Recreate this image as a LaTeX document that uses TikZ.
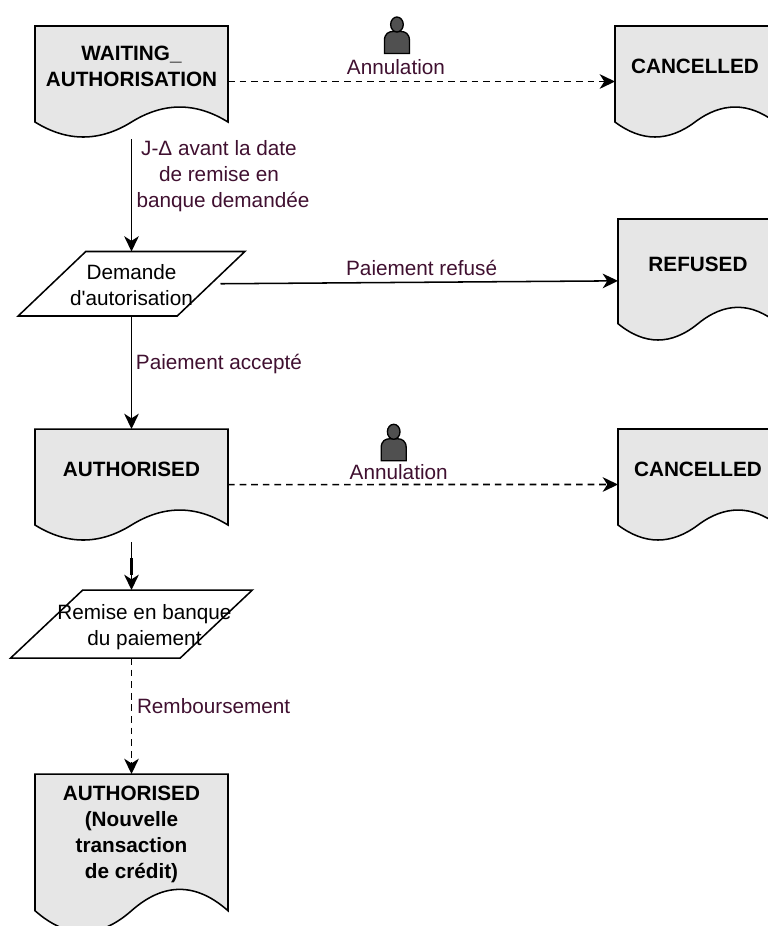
\documentclass[tikz,border=0pt]{standalone}
\usepackage{fontspec}
\setmainfont[Ligatures=TeXOff]{Liberation Sans}
\usepackage{xcolor}
\usepackage{tikz}
\usetikzlibrary{shapes.geometric, positioning, arrows.meta}
\newlength{\Pix}
\setlength\Pix{0.75pt}
\definecolor{plum}{HTML}{401030}
\definecolor{docgrey}{HTML}{E6E6E6}
\definecolor{usergrey}{HTML}{505050}

% sheet with a wavy lower edge
\makeatletter
\pgfdeclareshape{docwave}{
    \inheritsavedanchors[from=rectangle]
    \inheritanchorborder[from=rectangle]
    \inheritanchor[from=rectangle]{center}
    \inheritanchor[from=rectangle]{north}
    \inheritanchor[from=rectangle]{south}
    \inheritanchor[from=rectangle]{east}
    \inheritanchor[from=rectangle]{west}
    \backgroundpath{
        \southwest \pgf@xa=\pgf@x \pgf@ya=\pgf@y
        \northeast \pgf@xb=\pgf@x \pgf@yb=\pgf@y
        \pgf@xc=\pgf@xb \advance\pgf@xc by -\pgf@xa \pgf@xc=0.16667\pgf@xc
        \pgf@yc=\pgf@yb \advance\pgf@yc by -\pgf@ya \pgf@yc=0.135\pgf@yc
        \edef\docleft{\the\pgf@xa}
        \edef\docright{\the\pgf@xb}
        \edef\doctop{\the\pgf@yb}
        \edef\docmid{\the\dimexpr(\pgf@xa+\pgf@xb)/2\relax}
        \edef\docend{\the\dimexpr\pgf@ya+\pgf@yc\relax}
        \edef\docup{\the\dimexpr\pgf@ya+\pgf@yc+4\pgf@yc/3\relax}
        \edef\docdown{\the\dimexpr\pgf@ya+\pgf@yc-4\pgf@yc/3\relax}
        \edef\docra{\the\dimexpr\pgf@xb-\pgf@xc\relax}
        \edef\docrb{\the\dimexpr(\pgf@xa+\pgf@xb)/2+\pgf@xc\relax}
        \edef\docla{\the\dimexpr(\pgf@xa+\pgf@xb)/2-\pgf@xc\relax}
        \edef\doclb{\the\dimexpr\pgf@xa+\pgf@xc\relax}
        \pgfpathmoveto{\pgfqpoint{\docleft}{\doctop}}
        \pgfpathlineto{\pgfqpoint{\docright}{\doctop}}
        \pgfpathlineto{\pgfqpoint{\docright}{\docend}}
        \pgfpathcurveto{\pgfqpoint{\docra}{\docup}}{\pgfqpoint{\docrb}{\docup}}{\pgfqpoint{\docmid}{\docend}}
        \pgfpathcurveto{\pgfqpoint{\docla}{\docdown}}{\pgfqpoint{\doclb}{\docdown}}{\pgfqpoint{\docleft}{\docend}}
        \pgfpathclose
    }
}
\makeatother

\begin{document}
\begin{tikzpicture}[
    x = 0.75pt, y = -0.75pt, align=center, > = {Stealth[length = 11.5pt, width = 11pt, inset = 3.5pt]},
    every node/.style = {font = \fontsize{15.55pt}{19.5pt}\selectfont},
    doc/.style = {docwave, draw, fill = docgrey, line width = 1.15pt, inner sep = 0pt, outer sep = 0pt, minimum width = 193\Pix, minimum height = 111\Pix},
    side/.style = {doc, minimum width = 160\Pix},
    doctext/.style = {font = \fontsize{15.55pt}{19.5pt}\selectfont\bfseries, inner sep = 0pt, yshift = 11.6pt},
    io/.style = {trapezium, trapezium stretches = true, trapezium left angle = 55, trapezium right angle = 125, draw, line width = 1.15pt, inner sep = 0pt, outer sep = 0pt},
    iotext/.style = {inner sep = 0pt},
    flow/.style = {->, line width = 1.15pt},
    dashflow/.style = {flow, dash pattern = on 5pt off 3.7pt},
    flowtext/.style = {text = plum, inner sep = 0pt, anchor = center},
    user/.pic = {
        \draw [fill = usergrey, line width = 1pt] (-12.5,0) -- (-12.5,-13) .. controls (-12.5,-20) and (-8,-22) .. (-4,-22) -- (4,-22) .. controls (8,-22) and (12.5,-20) .. (12.5,-13) -- (12.5,0) -- cycle;
        \draw [fill = usergrey, line width = 1pt] (0,-29) ellipse [x radius = 6.3, y radius = 7.5];
    },
    ]
    \useasboundingbox (0,0) rectangle (768,926);

    % left column
    \node [doc, label = {[doctext]center:WAITING\_\\AUTHORISATION}] (waiting) at (131.5,81.5) {};
    \node [io, minimum width = 227\Pix, minimum height = 64.5\Pix, label = {[iotext, yshift = -.75pt]center:Demande\\d'autorisation}] (demande) [below = 114.5\Pix of waiting] {\phantom{x}};
    \node [doc, label = {[doctext]center:AUTHORISED}] (authorised) [below = 113\Pix of demande] {};
    \node [io, minimum width = 242\Pix, minimum height = 68\Pix, label = {[iotext, xshift = 9.75pt, yshift = -2.2pt]center:Remise en banque\\du paiement}] (remise) [below = 50\Pix of authorised] {\phantom{x}};
    \node [doc, minimum height = 158\Pix, label = {[doctext, yshift = 2.7pt]center:AUTHORISED\\(Nouvelle\\transaction\\de crédit)}] (credit) [below = 116\Pix of remise] {};

    % right column
    \node [side, label = {[doctext]center:CANCELLED}] (cancelled_top) [right = 387\Pix of waiting] {};
    \node [side, minimum height = 121\Pix, label = {[doctext]center:REFUSED}] (refused) [below = 82\Pix of cancelled_top, xshift = 2.25pt] {};
    \node [side, label = {[doctext]center:CANCELLED}] (cancelled_low) [below = 89\Pix of refused] {};

    % connectors
    \draw [flow, shorten < = 1.5pt] (waiting.south) to node [flowtext, pos = .3425, xshift = 65.6pt] (delay) {J-Δ avant la date\\de remise en\\\hspace*{8\Pix}banque demandée} (demande.north);
    \draw [flow] (demande.south) to node [flowtext, pos = .425, xshift = 65.6pt] (accepte) {Paiement accepté} (authorised.north);
    \draw [flow, shorten < = 1.5pt] (authorised.south) to (remise.north);
    \draw [line width = 1.8pt, shorten < = 13.5pt, shorten > = 11.25pt] (authorised.south) to (remise.north);
    \draw [dashflow] (remise.south) to node [flowtext, pos = .414, xshift = 61.6pt] (rembourse) {Remboursement} (credit.north);
    \draw [dashflow] (waiting.east) to node [flowtext, pos = .434, yshift = 10.5pt] (annul_top) {Annulation} (cancelled_top.west);
    \draw [flow] ([xshift = 7.1pt]demande.east) to node [flowtext, pos = .506, yshift = 10.5pt] (refuse) {Paiement refusé} ([yshift = -1pt]refused.west);
    \draw [dashflow] (authorised.east) to node [flowtext, pos = .4377, yshift = 9pt] (annul_low) {Annulation} (cancelled_low.west);

    % users above the cancellations
    \pic (user_top) at ([xshift = .75pt, yshift = 10.5pt]annul_top.center) {user};
    \pic (user_low) at ([xshift = -3.75pt, yshift = 8.8pt]annul_low.center) {user};
\end{tikzpicture}
\end{document}
